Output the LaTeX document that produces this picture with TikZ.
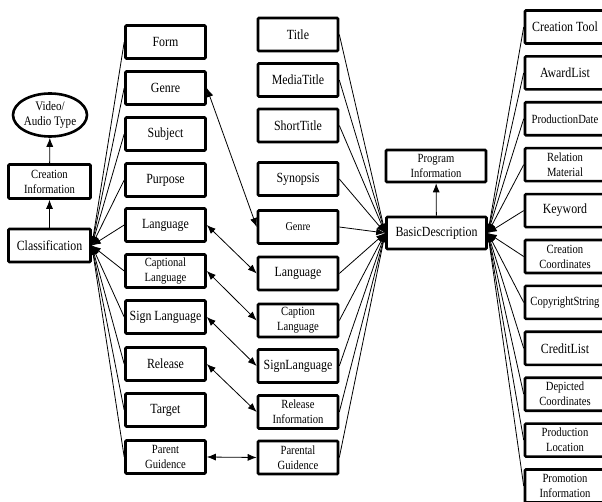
\documentclass[tikz,border=0pt]{standalone}
\usepackage{fontspec}
\setmainfont[FakeStretch=0.85]{Liberation Serif}
\usetikzlibrary{shapes.geometric,arrows.meta}
\begin{document}
\begin{tikzpicture}[x=1pt,y=-1pt,
  box/.style={draw,line width=2.6pt,rectangle,rounded corners=1pt,align=center,inner sep=1pt,
    minimum width=80pt,minimum height=33pt,font=\fontsize{14}{15}\selectfont},
  two/.style={font=\fontsize{12.5}{15}\selectfont},
  narrow/.style={font=\fontsize{12.5}{15}\selectfont},
  conn/.style={line width=0.8pt,-{Latex[length=9pt,width=7pt]}},
  dbl/.style={line width=0.8pt,{Latex[length=9pt,width=7pt]}-{Latex[length=9pt,width=7pt]}}
]
\useasboundingbox (0,0) rectangle (602,502);
% left-most
\node[draw,ellipse,line width=2.6pt,minimum width=68pt,minimum height=43pt,inner sep=0pt,align=center,
  font=\fontsize{13}{15}\selectfont] (vat) at (50,115) {Video/\\Audio Type};
\node[box,two,minimum width=82pt,minimum height=34pt] (ci) at (49.5,181.5) {Creation\\Information};
\node[box,minimum width=82pt] (cl) at (49.5,245.5) {Classification};
\draw[conn] (cl) -- (ci);
\draw[conn] (ci) -- (vat);
% left column
\node[box] (l1) at (165.5,42) {Form};
\node[box] (l2) at (165.5,88) {Genre};
\node[box] (l3) at (165.5,134) {Subject};
\node[box] (l4) at (165.5,180) {Purpose};
\node[box] (l5) at (165.5,225) {Language};
\node[box,two] (l6) at (165.5,271) {Captional\\Language};
\node[box] (l7) at (165.5,317) {Sign Language};
\node[box] (l8) at (165.5,364) {Release};
\node[box] (l9) at (165.5,410) {Target};
\node[box,two] (l10) at (165.5,457) {Parent\\Guidence};
\foreach \i in {1,...,10} \draw[conn] (l\i.west) -- (cl.east);
% middle column
\node[box] (m1) at (298,34.5) {Title};
\node[box] (m2) at (298,80) {MediaTitle};
\node[box] (m3) at (298,125.5) {ShortTitle};
\node[box] (m4) at (298,179) {Synopsis};
\node[box,font=\fontsize{12}{14}\selectfont] (m5) at (298,227) {Genre};
\node[box] (m6) at (298,273.5) {Language};
\node[box,two] (m7) at (298,320.5) {Caption\\Language};
\node[box] (m8) at (298,366) {SignLanguage};
\node[box,two] (m9) at (298,412) {Release\\Information};
\node[box,two] (m10) at (298,457.5) {Parental\\Guidence};
% basic description
\node[box,two,minimum width=100pt,minimum height=32pt] (pi) at (436,166) {Program\\Information};
\node[box,minimum width=100pt,minimum height=32pt] (bd) at (436.5,233) {BasicDescription};
\draw[conn] (bd) -- (pi);
\foreach \i in {1,...,10} \draw[conn] (m\i.east) -- (bd.west);
% pairs
\draw[dbl] (l2.east) -- (m5.west);
\draw[dbl] (l5.east) -- (m6.west);
\draw[dbl] (l6.east) -- (m7.west);
\draw[dbl] (l7.east) -- (m8.west);
\draw[dbl] (l8.east) -- (m9.west);
\draw[dbl] (l10.east) -- (m10.west);
% right column
\node[box] (r1) at (565,27) {Creation Tool};
\node[box] (r2) at (565,72.9) {AwardList};
\node[box,narrow] (r3) at (565,118.8) {ProductionDate};
\node[box,two] (r4) at (565,164.7) {Relation\\Material};
\node[box] (r5) at (565,210.6) {Keyword};
\node[box,two] (r6) at (565,256.5) {Creation\\Coordinates};
\node[box,narrow] (r7) at (565,302.4) {CopyrightString};
\node[box] (r8) at (565,348.3) {CreditList};
\node[box,two] (r9) at (565,394.2) {Depicted\\Coordinates};
\node[box,two] (r10) at (565,440.1) {Production\\Location};
\node[box,two] (r11) at (565,486) {Promotion\\Information};
\foreach \i in {1,...,11} \draw[conn] (r\i.west) -- (bd.east);
\end{tikzpicture}
\end{document}
